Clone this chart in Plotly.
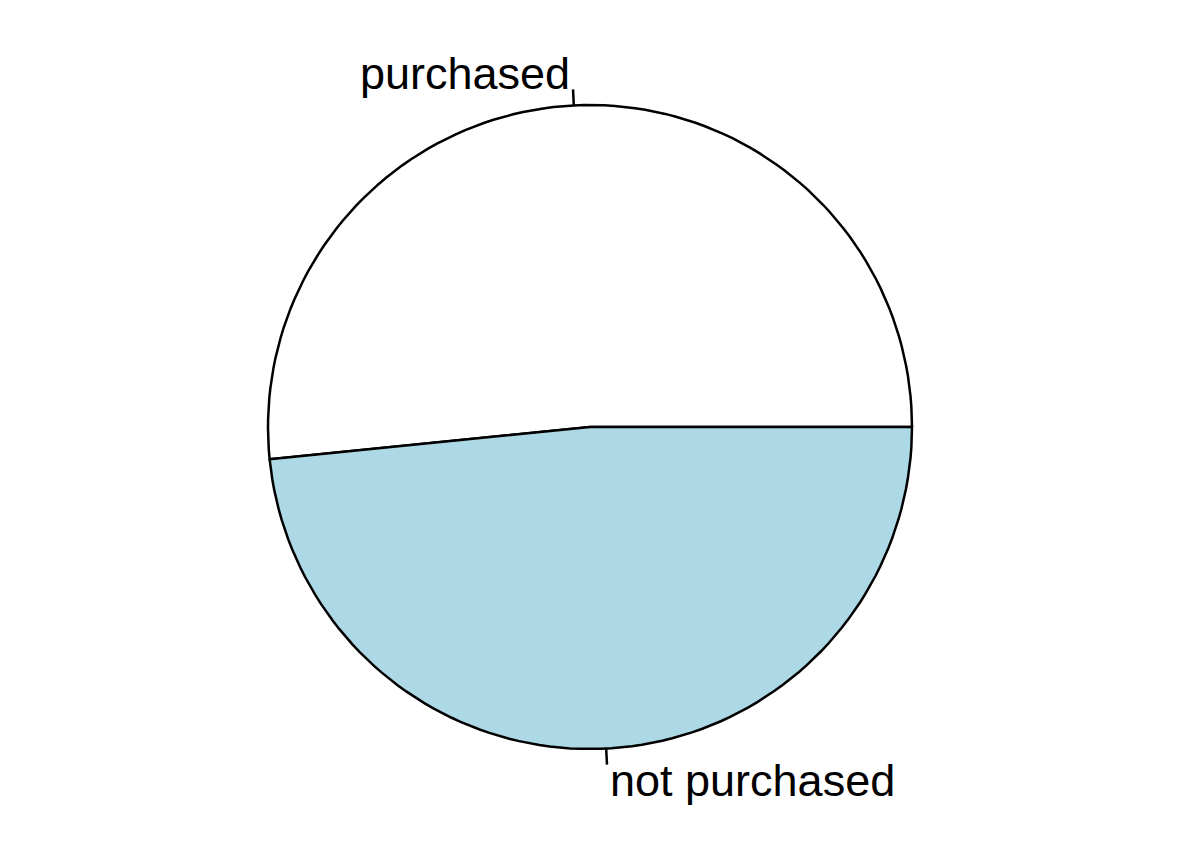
import numpy as np
import plotly.graph_objects as go

labels = ["purchased", "not purchased"]
values = [51.6, 48.4]
colors = ["#FFFFFF", "#ADD8E6"]

radius = 0.8
edges = 200

fig = go.Figure()

x = np.array(values, dtype=float)
x = np.concatenate([[0.0], np.cumsum(x) / x.sum()])
dx = np.diff(x)

for i in range(len(values)):
    n = max(2, int(np.floor(edges * dx[i])))
    t = np.linspace(x[i], x[i + 1], n)
    ang = 2 * np.pi * t
    px = list(radius * np.cos(ang)) + [0.0, radius * np.cos(ang[0])]
    py = list(radius * np.sin(ang)) + [0.0, radius * np.sin(ang[0])]
    fig.add_trace(go.Scatter(x=px, y=py, mode="lines", fill="toself",
                             fillcolor=colors[i],
                             line=dict(color="black", width=2.5),
                             hoverinfo="skip", showlegend=False))
    mid = 2 * np.pi * (x[i] + x[i + 1]) / 2
    cx, cy = np.cos(mid), np.sin(mid)
    fig.add_trace(go.Scatter(x=[radius * cx, 1.05 * radius * cx],
                             y=[radius * cy, 1.05 * radius * cy],
                             mode="lines", line=dict(color="black", width=2.5),
                             hoverinfo="skip", showlegend=False))
    fig.add_annotation(x=1.1 * radius * cx, y=1.1 * radius * cy,
                       text=labels[i], showarrow=False,
                       xanchor="right" if cx < 0 else "left",
                       yanchor="middle",
                       font=dict(family="Liberation Sans, Arial, sans-serif",
                                 size=45, color="black"))

scale = 402.5
W, H = 1201, 855
cxp, cyp = 590, 427
x0 = -cxp / scale
x1 = x0 + W / scale
y1 = cyp / scale
y0 = y1 - H / scale

fig.update_layout(
    width=W, height=H,
    margin=dict(l=0, r=0, t=0, b=0),
    paper_bgcolor="white", plot_bgcolor="white",
    xaxis=dict(range=[x0, x1], visible=False, fixedrange=True),
    yaxis=dict(range=[y0, y1], visible=False, fixedrange=True),
    showlegend=False,
)

fig.write_html("out.html")
